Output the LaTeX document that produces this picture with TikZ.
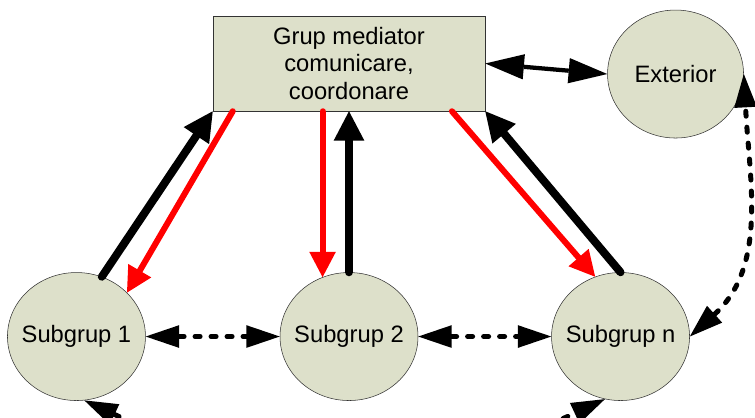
\documentclass[tikz,border=0pt]{standalone}
\usepackage{fontspec}
\setmainfont{Liberation Sans}
\usetikzlibrary{shapes.geometric, arrows.meta, positioning}
\definecolor{nodefill}{RGB}{221,224,202}
\tikzstyle{mediator_node} = [rectangle, minimum width=204pt, minimum height=71.25pt, align=center, draw=black!80, fill=nodefill, font=\fontsize{17.8}{20.3}\selectfont]
\tikzstyle{group_node} = [ellipse, minimum width=103.5pt, minimum height=96pt, inner sep=0pt, inner xsep=-15pt, draw=black!80, fill=nodefill, font=\fontsize{17.8}{21}\selectfont]
\tikzstyle{up_arrow} = [line width=6pt, line cap=round, -{Triangle[length=22pt, width=23pt, line width=0pt]}]
\tikzstyle{down_arrow} = [red, line width=4.5pt, line cap=round, -{Triangle[length=19pt, width=20pt, line width=0pt]}]
\tikzstyle{ext_arrow} = [line width=3.2pt, {Triangle[length=29pt, width=19pt, line width=0pt]}-{Triangle[length=29pt, width=19pt, line width=0pt]}]
\tikzstyle{peer_arrow} = [line width=3.75pt, line cap=round, dash pattern=on 3.75pt off 8.25pt, {Triangle[length=25pt, width=17pt, line width=0pt]}-{Triangle[length=25pt, width=17pt, line width=0pt]}]

\begin{document}
\begin{tikzpicture}[x=0.75pt, y=0.75pt]
\clip (0,0) rectangle (755,417);
\node (mediator) [mediator_node] at (349,353.5) {Grup mediator\\comunicare,\\coordonare};
\node (subgrup2) [group_node, below=120.75pt of mediator] {Subgrup 2};
\node (subgrup1) [group_node, left=100.5pt of subgrup2] {Subgrup 1};
\node (subgrupn) [group_node, right=99.75pt of subgrup2] {Subgrup n};
\node (exterior) [group_node, minimum width=102pt, right=91.5pt of mediator, yshift=-7.9pt] {Exterior};

% sus: raportare catre mediator, jos: coordonare catre subgrupuri
\draw [up_arrow] (subgrup1.67) -- (mediator.south west);
\draw [down_arrow] ([xshift=15pt]mediator.south west) -- (subgrup1.41);
\draw [down_arrow] (mediator.south -| subgrup2.114) -- (subgrup2.114);
\draw [up_arrow] (subgrup2.north) -- (mediator.south);
\draw [down_arrow] ([xshift=-25pt]mediator.south east) -- (subgrupn.113);
\draw [up_arrow] (subgrupn.north) -- (mediator.south east);
\draw [ext_arrow] (mediator.east) -- (exterior.west);

\draw [peer_arrow] (subgrup1.east) -- (subgrup2.west);
\draw [peer_arrow] (subgrup2.east) -- (subgrupn.west);
\draw [peer_arrow] (subgrupn.east) to[out=42, in=-87] (exterior.east);
\draw [peer_arrow] (subgrup1.-83) to[out=-25, in=-155] (subgrupn.-104);
\end{tikzpicture}
\end{document}
